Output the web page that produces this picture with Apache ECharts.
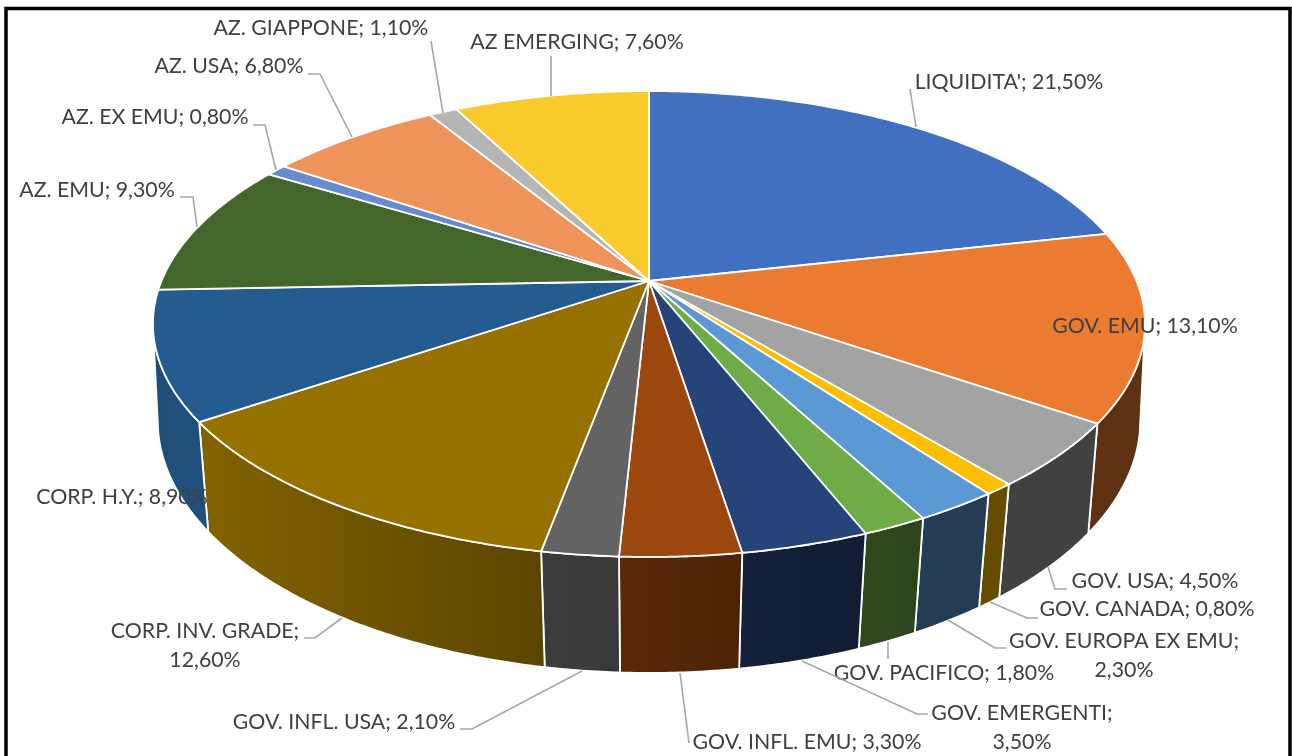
<!DOCTYPE html>
<html><head><meta charset="utf-8">
<style>html,body{margin:0;padding:0;background:#fff}#c{width:1292px;height:756px}</style>
<script src="https://cdn.jsdelivr.net/npm/echarts@6/dist/echarts.min.js"></script>
</head><body><div id="c"></div>
<script>
const categories = ["LIQUIDITA'","GOV. EMU","GOV. USA","GOV. CANADA","GOV. EUROPA EX EMU","GOV. PACIFICO","GOV. EMERGENTI","GOV. INFL. EMU","GOV. INFL. USA","CORP. INV. GRADE","CORP. H.Y.","AZ. EMU","AZ. EX EMU","AZ. USA","AZ. GIAPPONE","AZ EMERGING"];
const shares = [21.5,13.1,4.5,0.8,2.3,1.8,3.5,3.3,2.1,12.6,8.9,9.3,0.8,6.8,1.1,7.6];
const colors = ['#4270C1','#EB7B30','#A3A3A3','#FCBE00','#5A99D3','#6FAB46','#264478','#9C470E','#636363','#967100','#255C8F','#43672B','#678CCE','#EE945A','#B5B5B5','#FBCB2E'];
// label layout: [centre x, centre y of first line, wrapped?]
const labelLayout = [[1009,82],[1145,326],[1155,581],[1147,609],[1124,641,1],[944,673],[1022,713,1],[807,742],[344,722],[205,631,1],[122,497],[97,190],[155,117],[229,66],[321,28],[577,42]];
const leaderLines = [[[916,127],[910,89]],null,[[1048,567],[1055,589],[1067,589]],[[990,602],[1027,618],[1038,618]],[[948,620],[995,648],[1006,648]],[[888,642],[888,659]],[[802,661],[917,714],[928,714]],[[680,673],[689,743]],[[582,671],[472,729],[460,729]],[[342,618],[315,638],[304,638]],null,[[197,227],[193,197],[180,197]],[[276,170],[265,125],[253,125]],[[352,137],[320,74],[308,74]],[[443,113],[431,41]],[[551,96],[551,56]]];

// perspective projection of the two disc planes
const topDisc = {cx:649,cy:281,a:487.5,b:225,p:-0.1845};
const botDisc = {cx:649,cy:379.5,a:485,b:246.5,p:-0.16};
function project(d,deg){
  const t=deg*Math.PI/180, x=Math.sin(t), y=-Math.cos(t), w=1+d.p*y;
  return [d.cx+d.a*x/w, d.cy+d.b*y/w];
}
function arc(d,from,to){
  const n=Math.max(2,Math.ceil(Math.abs(to-from)*2)), pts=[];
  for(let i=0;i<=n;i++) pts.push(project(d,from+(to-from)*i/n));
  return pts;
}
// angle at which the wall edge is tangent to the top rim (the silhouette of the drum)
function tangentAngle(from,to){
  const f=deg=>{
    const p=project(topDisc,deg), q=project(topDisc,deg+.01), b=project(botDisc,deg);
    return (q[0]-p[0])*(b[1]-p[1])-(q[1]-p[1])*(b[0]-p[0]);
  };
  let lo=from, hi=to, flo=f(lo);
  for(let i=0;i<40;i++){
    const m=(lo+hi)/2, fm=f(m);
    if((fm>0)===(flo>0)){lo=m;flo=fm;} else hi=m;
  }
  return (lo+hi)/2;
}
const rightLimit=tangentAngle(60,150), leftLimit=tangentAngle(210,300);
// wall shading as a function of the angle
const shadeStops=[[60,.40],[150,.40],[165,.45],[180,.56],[190,.60],[200,.68],[213,.76],[235,.87],[250,.85],[300,.85]];
function shade(deg){
  for(let i=1;i<shadeStops.length;i++){
    const a=shadeStops[i-1], b=shadeStops[i];
    if(deg<=b[0]) return a[1]+(b[1]-a[1])*(deg-a[0])/(b[0]-a[0]);
  }
  return .85;
}
function mix(hex,f){
  const n=parseInt(hex.slice(1),16);
  return `rgb(${Math.round((n>>16&255)*f)},${Math.round((n>>8&255)*f)},${Math.round((n&255)*f)})`;
}
let acc=0;
const data = shares.map(s=>{const row=[s,acc];acc+=s;return row;});
const total = acc;
const sweep = (api)=>{const s=api.value(0), c=api.value(1);return [c/total*360,(c+s)/total*360];};

function renderWall(params,api){
  let [a0,a1]=sweep(api);
  a0=Math.max(a0,rightLimit); a1=Math.min(a1,leftLimit);
  if(a1<=a0) return null;
  const t=arc(topDisc,a0,a1), b=arc(botDisc,a1,a0);
  const base=colors[params.dataIndex];
  const all=t.concat(b), xs=all.map(p=>p[0]);
  const lo=Math.min(...xs), hi=Math.max(...xs);
  const asc=[];
  const steps=6;
  for(let i=0;i<=steps;i++){
    const deg=a0+(a1-a0)*i/steps, pos=(project(botDisc,deg)[0]-lo)/(hi-lo);
    asc.push({offset:Math.min(1,Math.max(0,pos)),color:mix(base,shade(deg))});
  }
  asc.sort((u,v)=>u.offset-v.offset);
  return {type:'polygon',shape:{points:all},
    style:{fill:{type:'linear',x:0,y:0,x2:1,y2:0,colorStops:asc,global:false},stroke:'#fff',lineWidth:1.8,lineJoin:'round'}};
}
function renderTop(params,api){
  const [a0,a1]=sweep(api);
  return {type:'polygon',shape:{points:[[topDisc.cx,topDisc.cy]].concat(arc(topDisc,a0,a1))},
    style:{fill:colors[params.dataIndex],stroke:'#fff',lineWidth:1.8,lineJoin:'round'}};
}
function renderLabel(params,api){
  const i=params.dataIndex, s=api.value(0), l=labelLayout[i], kids=[];
  const pct=s.toFixed(2).replace('.',',')+'%';
  const lines=l[2]?[categories[i]+';',pct]:[categories[i]+'; '+pct];
  if(leaderLines[i]) kids.push({type:'polyline',shape:{points:leaderLines[i]},style:{fill:null,stroke:'#A6A6A6',lineWidth:1.6}});
  lines.forEach((t,k)=>kids.push({type:'text',style:{text:t,x:l[0],y:l[1]+k*29,textAlign:'center',textVerticalAlign:'middle',font:'21.3px Lato',fill:'#404040'}}));
  return {type:'group',children:kids};
}
const chart=echarts.init(document.getElementById('c'),null,{renderer:'canvas'});
chart.setOption({
  animation:false,backgroundColor:'#fff',
  graphic:[{type:'rect',shape:{x:6,y:8.5,width:1284,height:800},style:{fill:null,stroke:'#000',lineWidth:3.5},silent:true}],
  series:[
    {type:'custom',coordinateSystem:'none',silent:true,renderItem:renderWall,data:data,z:2},
    {type:'custom',coordinateSystem:'none',silent:true,renderItem:renderTop,data:data,z:3},
    {type:'custom',coordinateSystem:'none',silent:true,renderItem:renderLabel,data:data,z:4}
  ]
});
</script></body></html>
